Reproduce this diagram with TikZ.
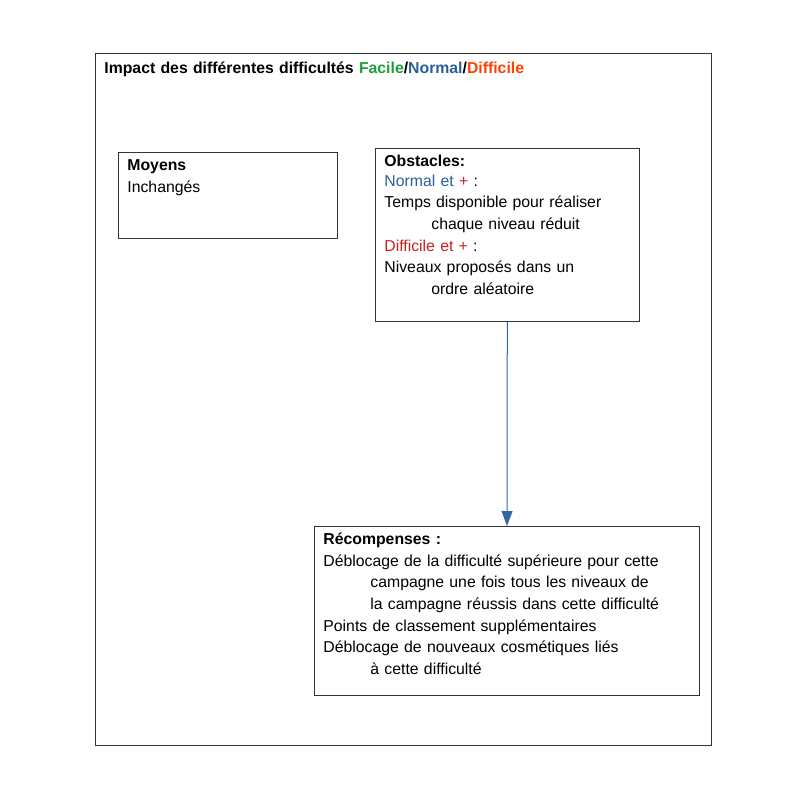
\documentclass[tikz,border=0pt]{standalone}
\usepackage{fontspec}
\setmainfont{Liberation Sans}
\usepackage{xcolor}
\usepackage{tikz}
\usetikzlibrary{arrows.meta, positioning}
\definecolor{facilegreen}{HTML}{1E9E3C}
\definecolor{normalblue}{HTML}{2A6099}
\definecolor{difficileorange}{HTML}{FF4000}
\definecolor{difficilered}{HTML}{C9211E}
\definecolor{linkblue}{HTML}{3465A4}
\tikzset{%
	every box/.style={
		draw=black!80,
		line width=0.8pt,
		rectangle,
		anchor=north west,
		align=left,
		inner xsep=9pt,
		inner ysep=7pt,
		text height=11pt,
		font=\fontsize{15.8}{21.7}\selectfont
	},
	link/.style={
		draw=linkblue,
		line width=1pt,
		-{Triangle[length=15pt, width=11pt]}
	},
}
\newcommand{\retrait}{\hspace*{47pt}}

\begin{document}
\begin{tikzpicture}[x=1pt, y=-1pt]
			\useasboundingbox (0,0) rectangle (794,794);
			
			% Frame and title
			\node[every box, inner ysep=9pt, text width=598pt, text depth=663pt] (frame) at (95,53)
			{\textbf{Impact des différentes difficultés \textcolor{facilegreen}{Facile}/\textcolor{normalblue}{Normal}/\textcolor{difficileorange}{Difficile}}};
			
			% Boxes
			\node[every box, text width=201pt, text depth=61pt] (moyens) at (118,152)
			{\textbf{Moyens}\\Inchangés};
			\node[every box, text width=246pt, text depth=148pt] (obstacles) at (375,148)
			{\textbf{Obstacles:}\\[-2pt]
			\textcolor{normalblue}{Normal et \textcolor{difficilered}{+}} :\\
			Temps disponible pour réaliser\\
			\retrait chaque niveau réduit\\
			\textcolor{difficilered}{Difficile et +} :\\
			Niveaux proposés dans un\\
			\retrait ordre aléatoire};
			\node[every box, text width=367pt, text depth=144pt] (recompenses) at (314,526)
			{\textbf{Récompenses :}\\
			Déblocage de la difficulté supérieure pour cette\\
			\retrait campagne une fois tous les niveaux de\\
			\retrait la campagne réussis dans cette difficulté\\
			Points de classement supplémentaires\\
			Déblocage de nouveaux cosmétiques liés\\
			\retrait à cette difficulté};
			
			% Connector
			\draw[link] (obstacles) -- (recompenses);
			
		\end{tikzpicture}
\end{document}
